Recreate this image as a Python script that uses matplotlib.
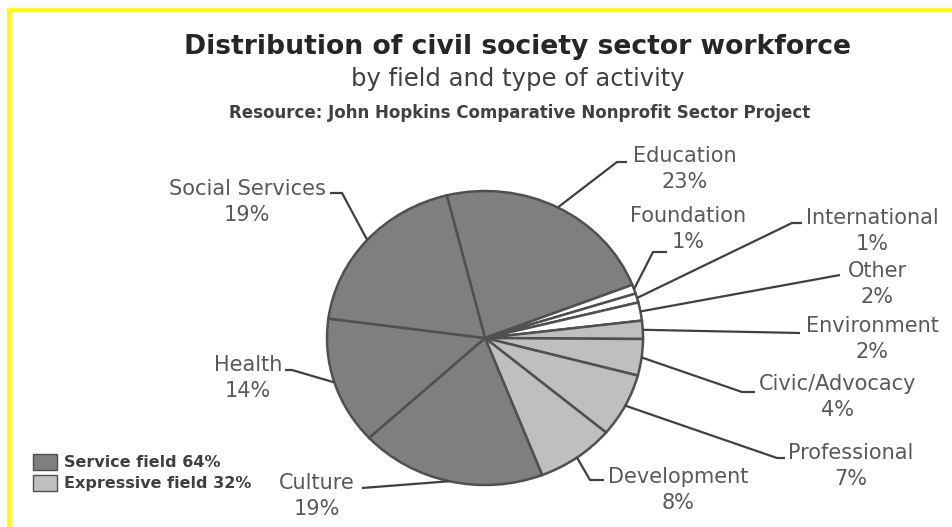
import matplotlib
matplotlib.use("Agg")
import matplotlib.pyplot as plt
import numpy as np
from matplotlib.lines import Line2D
from matplotlib.patches import Patch

# --- data ---
fields = ["Education", "Foundation", "International", "Other", "Environment",
          "Civic/Advocacy", "Professional", "Development", "Culture", "Health",
          "Social Services"]
shares = [23, 1, 1, 2, 2, 4, 7, 8, 19, 14, 19]
kind = ["service", "none", "none", "none", "expressive", "expressive",
        "expressive", "expressive", "service", "service", "service"]
legend_labels = ["Service field 64%", "Expressive field 32%"]

W, H = 952, 527
DARK, LIGHT, BLANK = "#7f7f7f", "#bfbfbf", "#ffffff"
fill = {"service": DARK, "expressive": LIGHT, "none": BLANK}

# label block centres and leader-line bends (pixels, y from top)
label_xy = {
    "Education": (685, 169), "Foundation": (688, 229), "International": (872, 231),
    "Other": (877, 284), "Environment": (872, 339), "Civic/Advocacy": (838, 397),
    "Professional": (851, 466), "Development": (678, 490), "Culture": (317, 496),
    "Health": (248, 378), "Social Services": (247, 202),
}
leader = {
    "Education": [(617, 162), (627, 162)],
    "Foundation": [(653, 252), (667, 252)],
    "International": [(792, 223), (802, 223)],
    "Other": [(840, 275)],
    "Environment": [(800, 333)],
    "Civic/Advocacy": [(742, 392), (755, 392)],
    "Professional": [(777, 458), (785, 458)],
    "Development": [(590, 480), (604, 480)],
    "Culture": [(362, 488)],
    "Health": [(292, 370), (285, 370)],
    "Social Services": [(342, 193), (330, 193)],
}


def fig_frac(x, y):
    return x / W, 1 - y / H


fig = plt.figure(figsize=(W / 100, H / 100), dpi=100)
fig.patch.set_facecolor("white")

# pie axes: centre ~ (485, 338) px, radii 158 x 147 px
cx, cy, rx, ry = 485, 338, 158, 147
ax = fig.add_axes([(cx - rx) / W, (H - cy - ry) / H, 2 * rx / W, 2 * ry / H])
wedges, _ = ax.pie(shares, startangle=104, counterclock=False,
                   colors=[fill[k] for k in kind], radius=1,
                   wedgeprops=dict(edgecolor="#505050", linewidth=1.8))
ax.set_xlim(-1, 1)
ax.set_ylim(-1, 1)
ax.set_aspect("auto")
ax.axis("off")

to_data = ax.transData.inverted()
for w, name, val in zip(wedges, fields, shares):
    mid = np.deg2rad((w.theta1 + w.theta2) / 2)
    pts = [(np.cos(mid), np.sin(mid))]
    for (px, py) in leader[name]:
        pts.append(tuple(to_data.transform((px, H - py))))
    pts = np.array(pts)
    ax.plot(pts[:, 0], pts[:, 1], color="#404040", lw=1.6, clip_on=False,
            solid_capstyle="butt")
    lx, ly = fig_frac(*label_xy[name])
    fig.text(lx, ly, f"{name}\n{val}%", ha="center", va="center",
             fontsize=15, color="#595959", linespacing=1.4,
             family="DejaVu Sans")

# titles
fig.text(*fig_frac(517, 47), "Distribution of civil society sector workforce",
         ha="center", va="center", fontsize=19.2, fontweight="bold", color="#262626")
fig.text(*fig_frac(518, 79), "by field and type of activity",
         ha="center", va="center", fontsize=17.5, color="#404040")
fig.text(*fig_frac(520, 113),
         "Resource: John Hopkins Comparative Nonprofit Sector Project",
         ha="center", va="center", fontsize=12, fontweight="bold", color="#404040")

# legend
handles = [Patch(facecolor=DARK, edgecolor="#505050"),
           Patch(facecolor=LIGHT, edgecolor="#505050")]
fig.legend(handles, legend_labels, loc="upper left",
           bbox_to_anchor=fig_frac(19, 440), frameon=False,
           handlelength=1.5, handleheight=1.1, handletextpad=0.4,
           labelspacing=0.3, prop=dict(size=11.5, weight="bold"),
           labelcolor="#404040")

# yellow frame on top and left
fig.add_artist(Line2D([9 / W, 1], [1 - 10 / H, 1 - 10 / H], color="#ffff00", lw=3))
fig.add_artist(Line2D([9 / W, 9 / W], [0, 1 - 10 / H], color="#ffff00", lw=3))

fig.savefig("out.png", dpi=100)
